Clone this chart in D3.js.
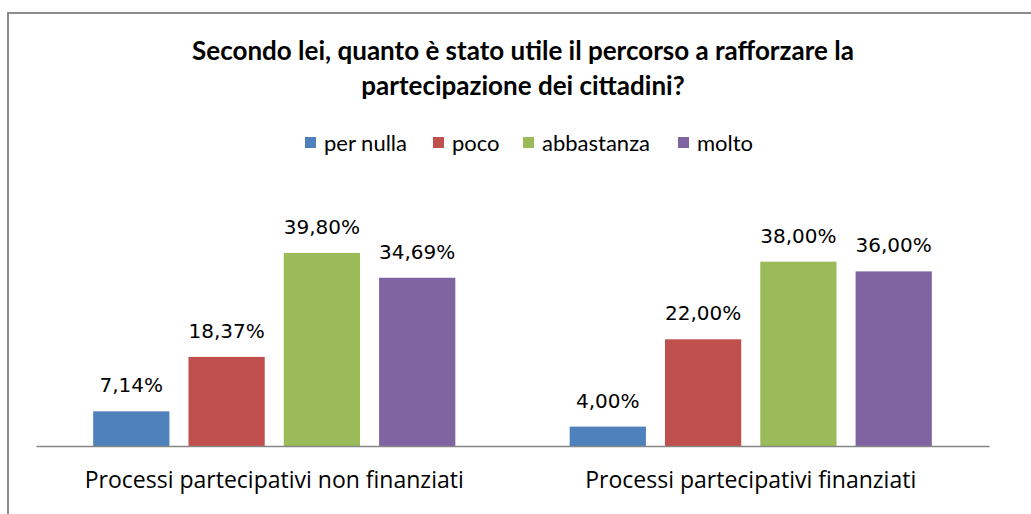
<!DOCTYPE html>
<html>
<head>
<meta charset="utf-8">
<script src="https://cdn.jsdelivr.net/npm/d3@7"></script>
<style>
  body { margin: 0; background: #fff; }
</style>
</head>
<body>
<div class="chart"></div>
<script>
// data
const categories = ['Processi partecipativi non finanziati', 'Processi partecipativi finanziati']
const series = ['per nulla', 'poco', 'abbastanza', 'molto']
const colors = ['#4f81bd', '#c0504d', '#9bbb59', '#8064a2']
const values = [
	[7.14, 18.37, 39.80, 34.69],
	[4.00, 22.00, 38.00, 36.00]
]
const titleLines = ['Secondo lei, quanto è stato utile il percorso a rafforzare la', 'partecipazione dei cittadini?']

const width = 1031
const height = 514

const svg = d3.select('.chart')
	.append('svg')
	.attr('width', width)
	.attr('height', height)

// chart frame (gray border, cut off at right/bottom like the screenshot)
svg.append('rect')
	.attr('x', 8)
	.attr('y', 13)
	.attr('width', width + 20)
	.attr('height', height + 20)
	.attr('fill', 'none')
	.attr('stroke', '#8c8c8c')
	.attr('stroke-width', 2)

// title
svg.append('g')
	.selectAll('text')
	.data(titleLines)
	.enter()
	.append('text')
	.attr('x', 523)
	.attr('y', (d, i) => 60 + i * 35)
	.attr('text-anchor', 'middle')
	.attr('font-family', 'Lato, sans-serif')
	.attr('font-weight', 'bold')
	.attr('font-size', 26)
	.attr('fill', '#000')
	.text(d => d)

// scales
const plot = { left: 36, right: 989, base: 446 }

const x0 = d3.scaleBand()
	.domain(categories)
	.range([plot.left, plot.right])

const x1 = d3.scaleBand()
	.domain(series)
	.range([0, x0.bandwidth()])
	.paddingInner(0.2)
	.paddingOuter(0.6)

const y = d3.scaleLinear()
	.domain([0, 40])
	.range([plot.base, plot.base - 194])

const fmt = v => d3.format('.2f')(v).replace('.', ',') + '%'

// bars
const groups = svg.append('g')
	.selectAll('g')
	.data(categories)
	.enter()
	.append('g')
	.attr('transform', d => `translate(${x0(d)}, 0)`)

groups.selectAll('rect')
	.data((d, i) => values[i].map((v, j) => ({ key: series[j], v, c: colors[j] })))
	.enter()
	.append('rect')
	.attr('x', d => x1(d.key))
	.attr('y', d => y(d.v))
	.attr('width', x1.bandwidth())
	.attr('height', d => y(0) - y(d.v))
	.attr('fill', d => d.c)

groups.selectAll('text')
	.data((d, i) => values[i].map((v, j) => ({ key: series[j], v })))
	.enter()
	.append('text')
	.attr('x', d => x1(d.key) + x1.bandwidth() / 2)
	.attr('y', d => y(d.v) - 19)
	.attr('text-anchor', 'middle')
	.attr('font-family', 'DejaVu Sans, sans-serif')
	.attr('font-size', 20)
	.attr('fill', '#000')
	.text(d => fmt(d.v))

// x axis
const xAxis = d3.axisBottom(x0).tickSize(0).tickPadding(0)
const xAxisGroup = svg.append('g')
	.attr('transform', `translate(0, ${plot.base})`)
	.call(xAxis)

xAxisGroup.select('.domain')
	.attr('stroke', '#868686')
	.attr('stroke-width', 1.5)

xAxisGroup.selectAll('text')
	.attr('dy', 0)
	.attr('y', 42)
	.attr('font-family', 'Open Sans, sans-serif')
	.attr('font-size', 23)
	.attr('fill', '#000')

// legend
const legendX = [305, 433, 523, 678]
const legend = svg.append('g')
	.selectAll('g')
	.data(series)
	.enter()
	.append('g')
	.attr('transform', (d, i) => `translate(${legendX[i]}, 137)`)

legend.append('rect')
	.attr('width', 11)
	.attr('height', 11)
	.attr('fill', (d, i) => colors[i])

legend.append('text')
	.attr('x', 19)
	.attr('y', 14)
	.attr('font-family', 'Lato, sans-serif')
	.attr('font-size', 22)
	.attr('fill', '#000')
	.text(d => d)
</script>
</body>
</html>
